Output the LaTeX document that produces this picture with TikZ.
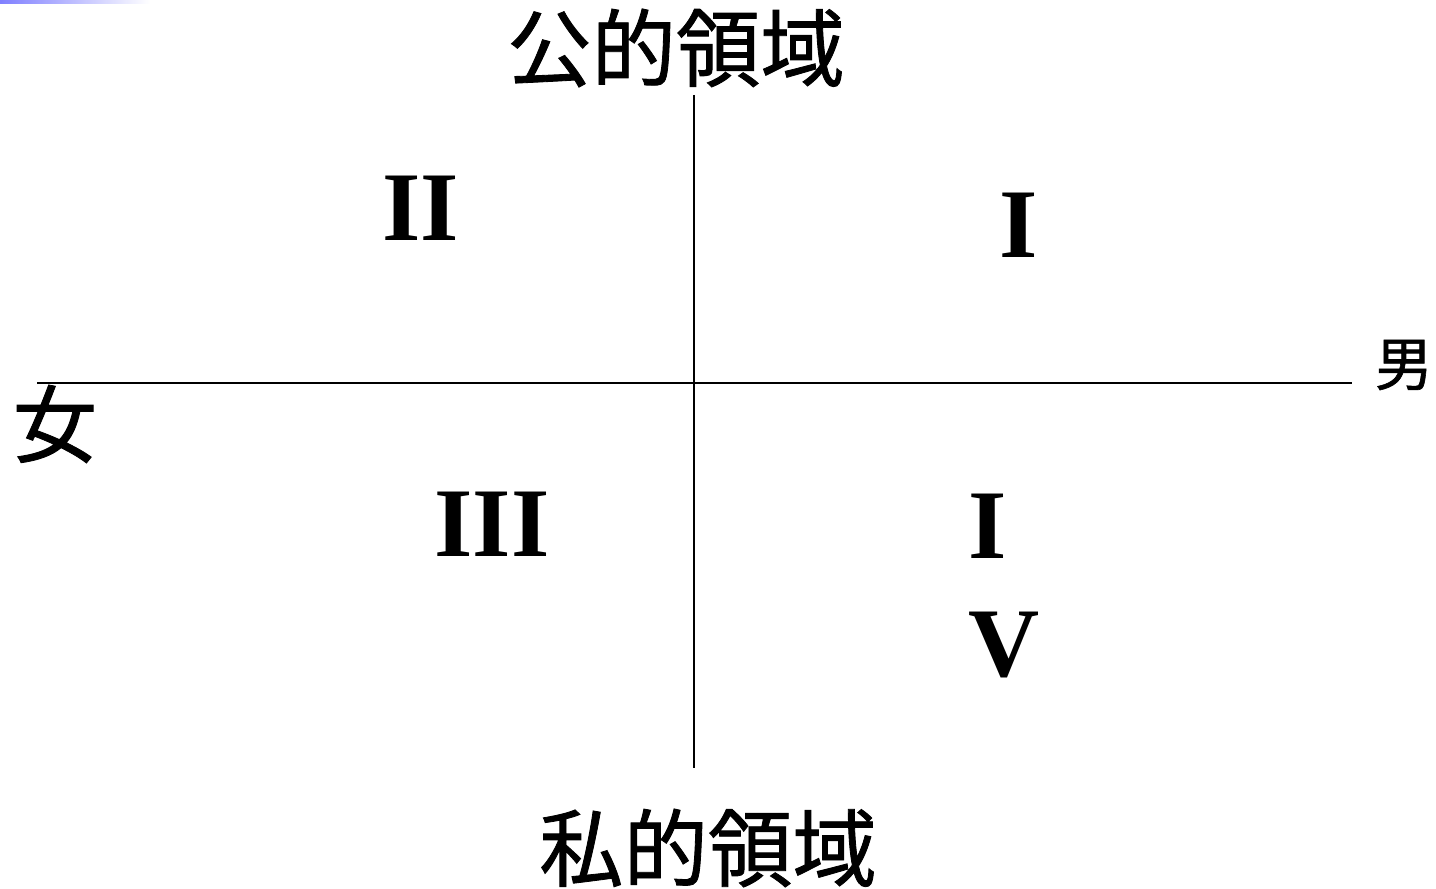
\documentclass[tikz,border=0pt]{standalone}
\usepackage{fontspec}
\setmainfont{Liberation Serif}
\newfontfamily\jpfont{Noto Sans CJK JP}[BoldFont={Noto Sans CJK JP}, BoldFeatures={FakeBold=1}]
\tikzset{
  numeral/.style={inner sep=0pt, anchor=base, font=\fontsize{28}{30}\selectfont\bfseries},
  sphere/.style={inner sep=0pt, font=\jpfont\fontsize{24}{26}\selectfont\bfseries},
  sex/.style={inner sep=0pt, font=\jpfont\fontsize{24}{26}\selectfont\bfseries},
}
\begin{document}
\begin{tikzpicture}[x=0.01cm,y=-0.01cm]
  \useasboundingbox (0,0) rectangle (1436,889);
  \shade[left color=blue!50!white, right color=white] (0,0) rectangle (150,4);

  % axes
  \coordinate (top) at (694,95);
  \coordinate (bottom) at (694,768);
  \coordinate (left) at (37,383);
  \coordinate (right) at (1352,383);
  \draw[line width=0.6pt] (top) -- (bottom);
  \draw[line width=0.6pt] (left) -- (right);

  \node[sphere] (public) at (676,48) {公的領域};
  \node[sphere] (private) at (708,848) {私的領域};
  \node[sex] (woman) at (55,424) {女};
  \node[sex, font=\jpfont\fontsize{16.5}{18}\selectfont\bfseries] (man) at (1404,365) {男};

  \node[numeral] (q2) at (421,241) {II};
  \node[numeral] (q1) at (1019,258) {I};
  \node[numeral] (q3) at (492,557) {III};
  \node[numeral] (q4a) at (988,559) {I};
  \node[numeral] (q4b) at (1004,677) {V};
\end{tikzpicture}
\end{document}
